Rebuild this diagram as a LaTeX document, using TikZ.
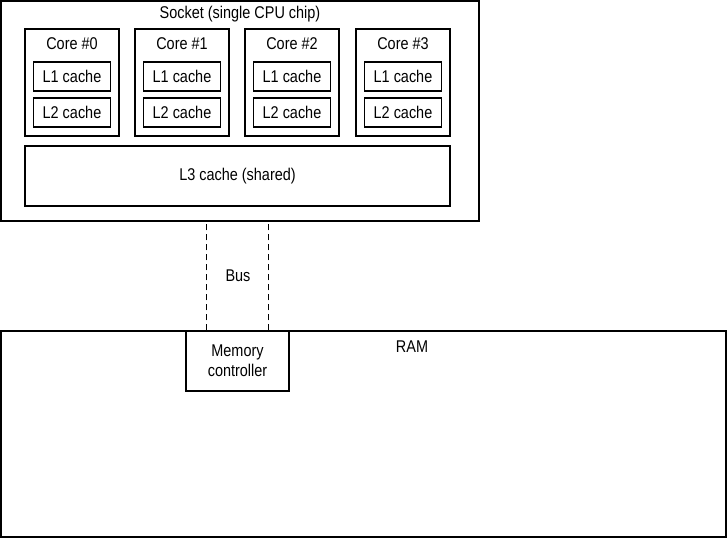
\documentclass[tikz,border=0pt]{standalone}
\usepackage{fontspec}
\setmainfont{Liberation Sans}[FakeStretch=0.85]
\usetikzlibrary{calc}

\begin{document}
\begin{tikzpicture}[x=1pt,y=-1pt,
    box/.style={draw,line width=1.5pt,inner sep=0pt,font=\fontsize{17}{20}\selectfont},
    lbl/.style={font=\fontsize{17}{20}\selectfont},
    busline/.style={dashed,line width=1.5pt,dash pattern=on 6pt off 4pt}]
    \useasboundingbox (0,0) rectangle (727,538);

    % Socket
    \node[box,minimum width=478pt,minimum height=220pt] (socket) at (240,111) {};
    \node[lbl] (sockettitle) at (240,14) {Socket (single CPU chip)};

    % Cores with L1 and L2 caches
    \foreach \i/\x in {0/72,1/182,2/292,3/403} {
        \node[box,minimum width=94pt,minimum height=107pt] (core\i) at (\x,82.5) {};
        \node[lbl] (corename\i) at (\x,44) {Core \#\i};
        \node[box,minimum width=77pt,minimum height=29pt] (lone\i) at (\x,76.5) {L1 cache};
        \node[box,minimum width=77pt,minimum height=29pt] (ltwo\i) at (\x,112.5) {L2 cache};
    }

    % L3 cache
    \node[box,minimum width=425pt,minimum height=60pt] (lthree) at (237.5,176) {L3 cache (shared)};

    % RAM
    \node[box,minimum width=725pt,minimum height=206pt] (ram) at (363.5,434) {};
    \node[lbl] (ramname) at (412,347) {RAM};

    % Memory controller
    \node[box,minimum width=103pt,minimum height=60pt,align=center] (memctrl) at (237.5,361) {Memory\\controller};

    % Bus
    \draw[busline] ([xshift=-31pt]memctrl.north) -- ([xshift=-31pt]memctrl.north |- socket.south);
    \draw[busline] ([xshift=31pt]memctrl.north) -- ([xshift=31pt]memctrl.north |- socket.south);
    \node[lbl] (bus) at (238,276) {Bus};

\end{tikzpicture}
\end{document}
